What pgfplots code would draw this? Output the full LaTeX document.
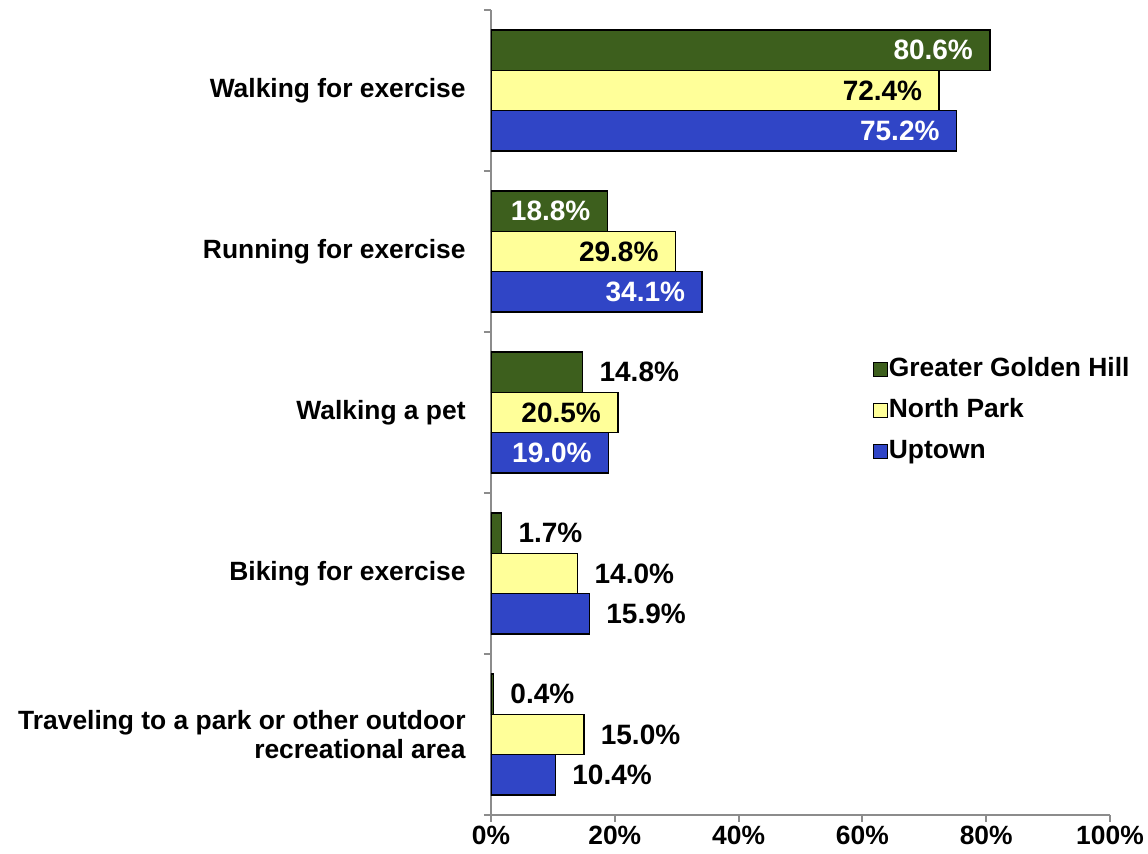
\documentclass[border=0pt]{standalone}
\usepackage{fontspec}
\setmainfont{Liberation Sans}
\usepackage{pgfplots}
\pgfplotsset{compat=1.18}
\definecolor{ggh}{HTML}{3D5F1D}
\definecolor{np}{HTML}{FFFF99}
\definecolor{upt}{HTML}{3045C6}
\definecolor{axgray}{HTML}{8C8C8C}
\newcommand\lbl{\fontsize{13.2}{14.5}\selectfont\bfseries}
\newcommand\dlbl{\fontsize{14}{15}\selectfont\bfseries}
\pgfplotsset{
  lblin/.style={xbar, forget plot, draw=none, fill=none, point meta=x,
    nodes near coords={\pgfmathprintnumber[fixed,fixed zerofill,precision=1]{\pgfplotspointmeta}\%},
    nodes near coords style={anchor=east, inner sep=0pt, xshift=-8.3pt, font=\dlbl, text=#1}},
  lblout/.style={xbar, forget plot, draw=none, fill=none, point meta=x,
    nodes near coords={\pgfmathprintnumber[fixed,fixed zerofill,precision=1]{\pgfplotspointmeta}\%},
    nodes near coords style={anchor=west, inner sep=0pt, xshift=8.3pt, font=\dlbl, text=black}},
}
\begin{document}
\begin{tikzpicture}
\begin{axis}[
  scale only axis, width=309.5pt, height=402.5pt,
  at={(0,0)}, anchor=south west,
  xbar, bar width=0.25,
  xmin=0, xmax=100, ymin=-0.5, ymax=4.5, y dir=reverse,
  axis x line*=bottom, axis y line*=left,
  axis line style={draw=axgray, line width=1pt, -},
  /pgf/number format/assume math mode=true,
  xtick={0,20,40,60,80,100},
  xticklabels={0\%,20\%,40\%,60\%,80\%,100\%},
  minor xtick={0,20,40,60,80,100},
  ytick={0,1,2,3,4},
  yticklabels={Walking for exercise, Running for exercise, Walking a pet, Biking for exercise, {Traveling to a park or other outdoor\\recreational area}},
  minor ytick={-0.5,0.5,1.5,2.5,3.5,4.5},
  tick align=outside,
  major tick length=0pt,
  minor tick length=3.5pt,
  minor tick style={draw=axgray, line width=1pt},
  major tick style={draw=none},
  yticklabel style={align=right, inner sep=0pt, xshift=-12.5pt, font=\lbl},
  xticklabel style={inner sep=0pt, yshift=-5.5pt, font=\lbl},
  legend style={draw=none, fill=none, at={(0.606,0.502)}, anchor=west,
    font=\lbl, row sep=7.5pt,
    nodes={text height=10pt, text depth=3pt, inner ysep=0pt, inner xsep=0.6pt}},
  legend cell align=left,
  legend image code/.code={\draw[#1, line width=0.6pt] (0pt,-3.5pt) rectangle (7pt,3.5pt);},
]
\addplot[xbar, bar shift=-0.25, fill=ggh, draw=black, line width=0.8pt]
  coordinates {(80.6,0) (18.8,1) (14.8,2) (1.7,3) (0.4,4)};
\addlegendentry{Greater Golden Hill}
\addplot[xbar, bar shift=0, fill=np, draw=black, line width=0.8pt]
  coordinates {(72.4,0) (29.8,1) (20.5,2) (14.0,3) (15.0,4)};
\addlegendentry{North Park}
\addplot[xbar, bar shift=0.25, fill=upt, draw=black, line width=0.8pt]
  coordinates {(75.2,0) (34.1,1) (19.0,2) (15.9,3) (10.4,4)};
\addlegendentry{Uptown}
% data labels
\addplot[lblin=white, bar shift=-0.25] coordinates {(80.6,0) (18.8,1)};
\addplot[lblout, bar shift=-0.25] coordinates {(14.8,2) (1.7,3) (0.4,4)};
\addplot[lblin=black, bar shift=0] coordinates {(72.4,0) (29.8,1) (20.5,2)};
\addplot[lblout, bar shift=0] coordinates {(14.0,3) (15.0,4)};
\addplot[lblin=white, bar shift=0.25] coordinates {(75.2,0) (34.1,1) (19.0,2)};
\addplot[lblout, bar shift=0.25] coordinates {(15.9,3) (10.4,4)};
\end{axis}
\pgfresetboundingbox
\path[use as bounding box] (-245.5pt,-19.5pt) rectangle (328.5pt,407.5pt);
\end{tikzpicture}
\end{document}
